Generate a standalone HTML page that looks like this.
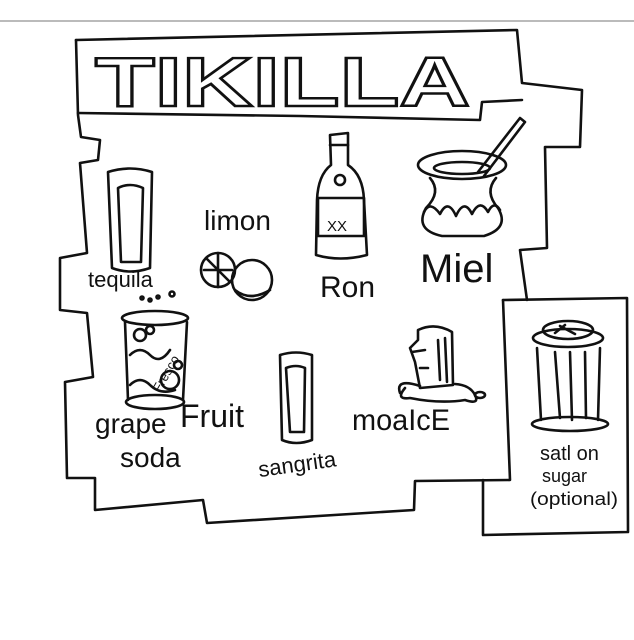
<!DOCTYPE html>
<html><head><meta charset="utf-8"><style>
html,body{margin:0;padding:0;background:#fff;}
svg{display:block;}
text{font-family:"Liberation Sans",sans-serif;fill:#111;}
</style></head><body>
<svg width="634" height="640" viewBox="0 0 634 640" xmlns="http://www.w3.org/2000/svg">
<rect width="634" height="640" fill="#fff"/>
<line x1="0" y1="21" x2="634" y2="21" stroke="#bbb" stroke-width="2"/>
<g fill="none" stroke="#111" stroke-width="2.6" stroke-linejoin="round" stroke-linecap="round">
<polyline points="76,40 517,30 522,83 582,90 580,147 545,147 547,248 520,250 527,300"/>
<polyline points="503,300 510,480 415,481 414,510 207,523 203,500 95,510 95,478 67,478 65,382 93,377 87,313 60,310 60,258 87,253 80,163 98,160 100,140 81,137 78,115 76,40"/>
<polyline points="503,300 627,298 628,532 483,535 483,480"/>
<polyline points="78,113 300,116 480,120 482,102 522,100"/>

<path d="M108,172 Q130,165 152,172 L150,268 Q130,275 112,268 Z"/>
<path d="M118,188 Q130,182 143,188 L141,262 L121,262 Z"/>
<circle cx="218" cy="270" r="17"/>
<path d="M206,258 L230,282 M218,253 L218,287 M204,270 L232,270"/>
<circle cx="252" cy="280" r="20"/>
<path d="M235,290 Q250,302 270,290"/>
<path d="M330,135 L348,133 L348,165 Q363,175 364,200 L367,255 Q340,262 316,255 L317,200 Q318,175 331,165 Z"/>
<line x1="330" y1="145" x2="348" y2="145"/>
<circle cx="340" cy="180" r="5"/>
<rect x="318" y="198" width="46" height="38"/>
<ellipse cx="462" cy="165" rx="44" ry="14"/>
<ellipse cx="462" cy="168" rx="28" ry="6"/>
<path d="M430,178 Q442,192 426,208 Q414,230 442,236 L484,236 Q510,228 498,208 Q484,192 496,178"/>
<path d="M424,212 Q430,200 440,214 Q448,198 456,216 Q464,198 472,214 Q480,198 488,212 Q494,200 500,210"/>
<path d="M478,172 L520,118 L525,122 L484,176"/>
<ellipse cx="155" cy="318" rx="33" ry="7"/>
<path d="M125,322 L128,400 M187,322 L183,400"/>
<ellipse cx="155" cy="402" rx="29" ry="7"/>
<circle cx="140" cy="335" r="6"/><circle cx="150" cy="330" r="4"/>
<circle cx="170" cy="380" r="9"/><circle cx="178" cy="365" r="4"/>
<path d="M130,355 Q140,345 150,355 T170,350 M130,385 Q140,375 150,385 T175,390"/>
<circle cx="142" cy="298" r="1.5"/><circle cx="150" cy="300" r="1.5"/><circle cx="158" cy="297" r="1.5"/><circle cx="172" cy="294" r="2.5"/>
<path d="M280,355 Q296,350 312,355 L312,440 Q296,446 282,440 Z"/>
<path d="M286,368 Q296,364 305,368 L304,432 L290,432 Z"/>
<path d="M420,388 L415,362 L410,348 L418,340 L418,330 Q435,322 452,332 L453,385 Z"/>
<path d="M412,352 L425,350 M420,368 L428,368 M438,340 L440,380 M445,338 L447,382"/>
<path d="M405,388 Q395,400 410,398 Q440,404 465,400 Q480,405 475,395 Q470,385 455,384 M400,393 Q395,378 420,386"/>
<ellipse cx="480" cy="395" rx="5" ry="3"/>
<ellipse cx="568" cy="338" rx="35" ry="9"/>
<ellipse cx="568" cy="330" rx="25" ry="9"/>
<path d="M560,326 L575,334 M555,333 L565,325"/>
<path d="M537,348 L541,420 M600,348 L598,420"/>
<path d="M555,352 L560,418 M570,352 L572,420 M585,352 L586,418"/>
<ellipse cx="570" cy="424" rx="38" ry="7"/>
</g>

<text x="95" y="106" font-size="70" font-weight="bold" stroke="#111" stroke-width="2.4" textLength="375" lengthAdjust="spacingAndGlyphs" style="fill:#fff">TIKILLA</text>
<text x="327" y="231" font-size="15">XX</text>
<text x="135" y="390" font-size="13" transform="rotate(-60 150 370)">Fresco</text>

<text x="88" y="287" font-size="22">tequila</text>
<text x="204" y="230" font-size="28">limon</text>
<text x="320" y="297" font-size="30">Ron</text>
<text x="420" y="282" font-size="40">Miel</text>
<text x="95" y="433" font-size="28">grape</text>
<text x="180" y="427" font-size="32">Fruit</text>
<text x="120" y="467" font-size="28">soda</text>
<text x="258" y="472" font-size="22" transform="rotate(-8 295 465)">sangrita</text>
<text x="352" y="430" font-size="30" textLength="98" lengthAdjust="spacingAndGlyphs">moaIcE</text>
<text x="540" y="460" font-size="20">satl on</text>
<text x="542" y="482" font-size="18">sugar</text>
<text x="530" y="505" font-size="18" textLength="88" lengthAdjust="spacingAndGlyphs">(optional)</text>
</svg>
</body></html>
